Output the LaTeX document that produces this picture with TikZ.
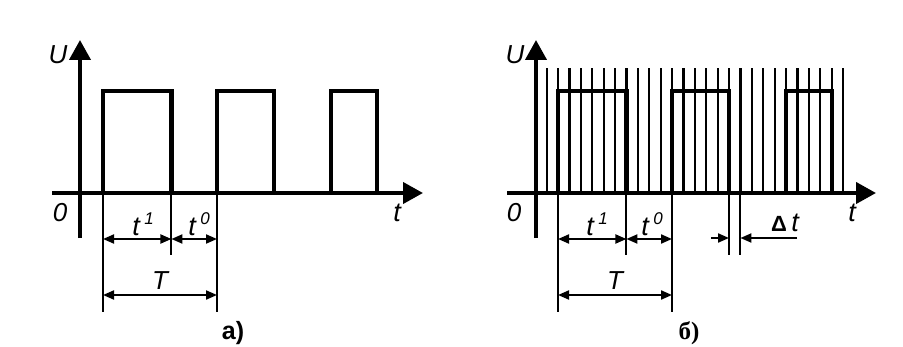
\documentclass[tikz,border=0pt]{standalone}
\usepackage{fontspec}
\setmainfont{Liberation Sans}
\newfontfamily\cyrfont{Liberation Serif}
\usetikzlibrary{arrows.meta}

\tikzset{
  axis/.style={line width=2pt, -{Triangle[length=10pt,width=10.5pt]}},
  pulse/.style={line width=2.1pt},
  clock/.style={line width=1.1pt},
  dimline/.style={line width=1pt},
  dimarrow/.style={line width=1pt, {Triangle[length=5.5pt,width=4.5pt]}-{Triangle[length=5.5pt,width=4.5pt]}},
  onearrow/.style={line width=1pt, -{Triangle[length=5.5pt,width=4.5pt]}},
  lbl/.style={font=\fontsize{13}{15}\selectfont\itshape},
  tlbl/.style={font=\fontsize{13.5}{15}\selectfont\itshape},
}
% superscripted time labels
\newcommand{\tsup}[1]{t\,\raisebox{0.8ex}{\fontsize{8.5}{9}\selectfont\itshape #1}}

\begin{document}
\begin{tikzpicture}[x=0.5pt, y=-0.5pt]
    \useasboundingbox (0,0) rectangle (903,347);

    % tick k sits at x = 91.6 + 11.4 k
    \def\tk#1{91.6+11.4*#1}

    % ---------- panel a) ----------
    \begin{scope}
        \draw[axis] (52,193) -- (423,193);
        \draw[axis] (80,238) -- (80,40);
        \node[lbl] (ua) at (58,55) {U};
        \node[lbl] (za) at (60,213) {0};
        \node[tlbl] (ta) at (397,213) {t};

        % pulses
        \foreach \a/\b in {1/7, 11/16, 21/25}
            \draw[pulse, line join=miter] ({\tk{\a}},193) -- ({\tk{\a}},91) -- ({\tk{\b}},91) -- ({\tk{\b}},193);

        % dimensions
        \coordinate (a1) at ({\tk{1}},239);
        \coordinate (a7) at ({\tk{7}},239);
        \coordinate (a11) at ({\tk{11}},239);
        \coordinate (aT1) at ({\tk{1}},295);
        \coordinate (aT11) at ({\tk{11}},295);
        \draw[dimline] ({\tk{1}},193) -- ({\tk{1}},312);
        \draw[dimline] ({\tk{7}},193) -- ({\tk{7}},255);
        \draw[dimline] ({\tk{11}},193) -- ({\tk{11}},312);
        \draw[dimarrow] (a1) -- (a7);
        \draw[dimarrow] (a7) -- (a11);
        \draw[dimarrow] (aT1) -- (aT11);
        \node[tlbl] (t1a) at (143,224) {\tsup{1}};
        \node[tlbl] (t0a) at (199,224) {\tsup{0}};
        \node[lbl] (Ta) at (160,281) {T};
        \node[font=\fontsize{12.5}{14}\selectfont\bfseries] (capa) at (233,333) {a)};
    \end{scope}

    % ---------- panel b) ----------
    \begin{scope}[xshift=227.5pt]
        % clock lines
        \foreach \k in {0,...,26}
            \draw[clock] ({\tk{\k}},193) -- ({\tk{\k}},68);

        \draw[axis] (52,193) -- (421,193);
        \draw[axis] (81,238) -- (81,40);
        \node[lbl] (ub) at (60,55) {U};
        \node[lbl] (zb) at (59,213) {0};
        \node[tlbl] (tb) at (397,213) {t};

        % pulses
        \foreach \a/\b in {1/7, 11/16, 21/25}
            \draw[pulse, line join=miter] ({\tk{\a}},193) -- ({\tk{\a}},91) -- ({\tk{\b}},91) -- ({\tk{\b}},193);

        % dimensions
        \coordinate (b1) at ({\tk{1}},239);
        \coordinate (b7) at ({\tk{7}},239);
        \coordinate (b11) at ({\tk{11}},239);
        \coordinate (bT1) at ({\tk{1}},295);
        \coordinate (bT11) at ({\tk{11}},295);
        \draw[dimline] ({\tk{1}},193) -- ({\tk{1}},312);
        \draw[dimline] ({\tk{7}},193) -- ({\tk{7}},255);
        \draw[dimline] ({\tk{11}},193) -- ({\tk{11}},312);
        \draw[dimarrow] (b1) -- (b7);
        \draw[dimarrow] (b7) -- (b11);
        \draw[dimarrow] (bT1) -- (bT11);
        \node[tlbl] (t1b) at (142,224) {\tsup{1}};
        \node[tlbl] (t0b) at (197,224) {\tsup{0}};
        \node[lbl] (Tb) at (160,281) {T};

        % delta t
        \draw[dimline] ({\tk{16}},193) -- ({\tk{16}},255);
        \draw[dimline] ({\tk{17}},193) -- ({\tk{17}},255);
        \coordinate (d16) at ({\tk{16}},238);
        \coordinate (d17) at ({\tk{17}},238);
        \coordinate (dl) at (256,238);
        \coordinate (dr) at (342,238);
        \draw[onearrow] (dl) -- (d16);
        \draw[onearrow] (dr) -- (d17);
        \node[tlbl] (dt) at (330,223) {{\upshape\bfseries\fontsize{11}{12}\selectfont Δ}\,t};
        \node[font=\cyrfont\fontsize{12.5}{14}\selectfont\bfseries] (capb) at (234,333) {б)};
    \end{scope}
\end{tikzpicture}
\end{document}
